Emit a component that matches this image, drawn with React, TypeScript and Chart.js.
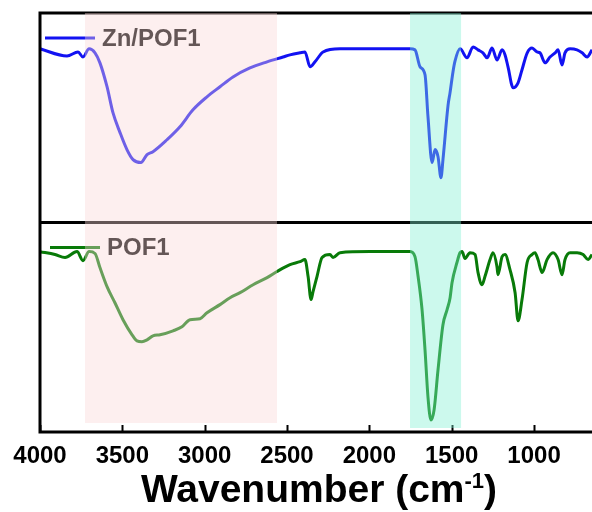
import React, { useEffect, useRef } from "react";
import { Chart, registerables } from "chart.js";

Chart.register(...registerables);

// FTIR spectra (wavenumber in cm-1, transmittance in a.u.)
const znPofWavenumber = [
  4000, 3836, 3769, 3739, 3702, 3666, 3636, 3593, 3557, 3514, 3472, 3435, 3387, 3350, 3314,
  3229, 3150, 3071, 2986, 2907, 2828, 2725, 2621, 2524, 2482, 2421, 2391, 2360, 2330, 2281,
  2178, 1978, 1753, 1723, 1692, 1662, 1644, 1619, 1601, 1583, 1565, 1553, 1522, 1510, 1492,
  1480, 1449, 1407, 1370, 1340, 1310, 1285, 1255, 1225, 1194, 1176, 1158, 1127, 1097, 1073,
  1042, 1012, 982, 964, 933, 903, 872, 854, 830, 812, 781, 739, 708, 678, 648,
];
const znPofTransmittance = [
  82.9, 79.5, 81.4, 79.0, 82.9, 81.0, 76.2, 64.8, 52.4, 42.9, 34.8, 30.0, 28.6, 32.4, 33.8,
  39.5, 45.7, 53.8, 60.0, 64.8, 69.5, 73.8, 76.7, 79.0, 80.0, 81.0, 81.4, 74.3, 76.7, 81.4,
  82.9, 82.9, 82.9, 82.4, 74.3, 70.5, 50.5, 28.6, 34.8, 31.4, 21.4, 30.0, 56.0, 62.0, 72.0,
  77.0, 82.9, 78.6, 83.8, 82.4, 81.0, 78.6, 83.3, 77.6, 82.4, 80.0, 74.3, 64.3, 66.7, 72.9,
  80.9, 83.3, 81.4, 81.0, 76.2, 79.0, 81.0, 82.4, 75.2, 81.0, 82.9, 82.4, 81.0, 79.0, 82.4,
];

const pofWavenumber = [
  4000, 3909, 3848, 3775, 3739, 3702, 3666, 3636, 3593, 3545, 3496, 3441, 3411, 3381, 3350,
  3314, 3271, 3192, 3138, 3089, 3028, 2986, 2907, 2846, 2785, 2706, 2621, 2561, 2482, 2421,
  2391, 2372, 2354, 2342, 2318, 2287, 2239, 2221, 2178, 1996, 1753, 1723, 1704, 1680, 1662,
  1644, 1626, 1607, 1583, 1553, 1528, 1510, 1498, 1468, 1449, 1437, 1419, 1389, 1358, 1340,
  1316, 1298, 1267, 1249, 1225, 1219, 1194, 1176, 1146, 1115, 1097, 1073, 1042, 1012, 994,
  976, 951, 921, 885, 854, 830, 812, 781, 739, 702, 672, 648,
];
const pofTransmittance = [
  86.1, 84.7, 83.3, 86.1, 81.8, 86.1, 85.2, 78.5, 69.4, 61.7, 53.6, 46.4, 43.5, 43.1, 44.0,
  45.9, 46.4, 48.3, 50.2, 53.6, 54.1, 56.9, 60.8, 64.1, 66.5, 70.3, 73.7, 76.6, 79.9, 81.3,
  82.3, 74.2, 63.2, 67.0, 74.2, 83.3, 84.7, 83.3, 85.6, 86.1, 86.1, 83.7, 74.2, 58.4, 39.2,
  16.7, 5.7, 10.5, 29.7, 51.2, 58.4, 64.0, 71.3, 80.9, 85.6, 86.1, 82.8, 85.6, 84.7, 76.1,
  70.3, 74.2, 82.3, 85.6, 78.9, 75.1, 83.7, 84.7, 77.5, 66.5, 53.1, 63.2, 80.9, 84.7, 85.6,
  82.3, 76.1, 82.3, 85.6, 82.3, 75.1, 82.3, 85.6, 85.6, 84.7, 82.3, 84.7,
];

const xTickValues = [4000, 3500, 3000, 2500, 2000, 1500, 1000];
const xRange = [648, 4000];

// highlighted absorption bands (wavenumber ranges)
const bandStarts = [3727, 1753];
const bandEnds = [2561, 1443];
const bandColors = ["rgba(250, 214, 214, 0.4)", "rgba(128, 240, 210, 0.4)"];
const bandBottomInset = [9, 4];

const seriesLabels = ["Zn/POF1", "POF1"];
const seriesColors = ["#1212f2", "#087a08"];

const FONT = '"Liberation Sans", Arial, Helvetica, sans-serif';

const toPoints = (xs: number[], ys: number[]) => xs.map((x, i) => ({ x, y: ys[i] }));

const panelDecor = {
  id: "panelDecor",
  afterDraw(chart: any) {
    const { ctx, chartArea, scales } = chart;
    const { left, top, right, bottom } = chartArea;
    const xs = scales.x;
    const mid = scales.yTop.bottom;
    ctx.save();

    // frame and panel divider
    ctx.strokeStyle = "#000";
    ctx.lineWidth = 3;
    ctx.beginPath();
    ctx.moveTo(right + 6, top);
    ctx.lineTo(left, top);
    ctx.lineTo(left, bottom);
    ctx.lineTo(right + 6, bottom);
    ctx.moveTo(left, mid);
    ctx.lineTo(right + 6, mid);
    ctx.stroke();

    // inward tick marks
    ctx.lineWidth = 2;
    ctx.beginPath();
    xTickValues.forEach((v) => {
      const px = Math.round(xs.getPixelForValue(v)) + 0.5;
      ctx.moveTo(px, bottom);
      ctx.lineTo(px, bottom - 7);
    });
    ctx.stroke();

    // per-panel legends
    const panels = [scales.yTop, scales.yBot];
    chart.data.datasets.forEach((ds: any, i: number) => {
      const p = panels[i];
      const ly = p.top + 25;
      const lx = left + 5 + i * 5;
      ctx.strokeStyle = ds.borderColor;
      ctx.lineWidth = 3;
      ctx.beginPath();
      ctx.moveTo(lx, ly);
      ctx.lineTo(lx + 50, ly);
      ctx.stroke();
      ctx.fillStyle = "#000";
      ctx.font = `bold 24px ${FONT}`;
      ctx.textBaseline = "middle";
      ctx.textAlign = "left";
      ctx.fillText(ds.label, lx + 57, ly + 1);
    });

    // highlighted bands drawn over the traces
    bandStarts.forEach((s, i) => {
      const x0 = xs.getPixelForValue(s);
      const x1 = xs.getPixelForValue(bandEnds[i]);
      ctx.fillStyle = bandColors[i];
      ctx.fillRect(x0, top, x1 - x0, bottom - bandBottomInset[i] - top);
    });

    // axis title with superscript
    const cx = (left + right) / 2 + 3;
    const baseY = 502;
    ctx.fillStyle = "#000";
    ctx.textBaseline = "alphabetic";
    ctx.textAlign = "left";
    const mainFont = `bold 39px ${FONT}`;
    const supFont = `bold 22px ${FONT}`;
    ctx.font = mainFont;
    const part1 = "Wavenumber (cm";
    const w1 = ctx.measureText(part1).width;
    ctx.font = supFont;
    const sup = "-1";
    const w2 = ctx.measureText(sup).width;
    ctx.font = mainFont;
    const part3 = ")";
    const w3 = ctx.measureText(part3).width;
    let tx = cx - (w1 + w2 + w3) / 2;
    ctx.fillText(part1, tx, baseY);
    tx += w1;
    ctx.font = supFont;
    ctx.fillText(sup, tx, baseY - 14);
    tx += w2;
    ctx.font = mainFont;
    ctx.fillText(part3, tx, baseY);

    ctx.restore();
  },
};

export default function App() {
  const canvasRef = useRef<HTMLCanvasElement | null>(null);

  useEffect(() => {
    document.body.style.margin = "0";
    const canvas = canvasRef.current;
    if (!canvas) return;
    const hidden = { display: false, drawTicks: false };
    const chart = new Chart(canvas, {
      type: "line",
      data: {
        datasets: [
          {
            label: seriesLabels[0],
            data: toPoints(znPofWavenumber, znPofTransmittance),
            borderColor: seriesColors[0],
            borderWidth: 3,
            pointRadius: 0,
            cubicInterpolationMode: "monotone",
            yAxisID: "yTop",
          },
          {
            label: seriesLabels[1],
            data: toPoints(pofWavenumber, pofTransmittance),
            borderColor: seriesColors[1],
            borderWidth: 3,
            pointRadius: 0,
            cubicInterpolationMode: "monotone",
            yAxisID: "yBot",
          },
        ],
      },
      options: {
        responsive: false,
        animation: false,
        layout: { padding: { left: 40, top: 13, right: 0, bottom: 0 } },
        plugins: { legend: { display: false }, tooltip: { enabled: false } },
        scales: {
          x: {
            type: "linear",
            reverse: true,
            min: xRange[0],
            max: xRange[1],
            afterBuildTicks: (s: any) => {
              s.ticks = xTickValues.map((v) => ({ value: v }));
            },
            afterFit: (s: any) => {
              s.height = 80;
            },
            grid: hidden,
            border: { display: false },
            ticks: {
              autoSkip: false,
              maxRotation: 0,
              padding: 10,
              color: "#000",
              font: { family: FONT, size: 24, weight: "bold" },
              callback: (v: any) => String(v),
            },
          },
          yBot: {
            type: "linear",
            position: "left",
            stack: "panels",
            stackWeight: 1,
            min: 0,
            max: 100,
            grid: hidden,
            border: { display: false },
            ticks: { display: false },
          },
          yTop: {
            type: "linear",
            position: "left",
            stack: "panels",
            stackWeight: 1,
            min: 0,
            max: 100,
            grid: hidden,
            border: { display: false },
            ticks: { display: false },
          },
        },
      } as any,
      plugins: [panelDecor],
    });
    return () => chart.destroy();
  }, []);

  return (
    <div style={{ width: 592, height: 512, background: "#fff" }}>
      <canvas ref={canvasRef} width={592} height={512} />
    </div>
  );
}
